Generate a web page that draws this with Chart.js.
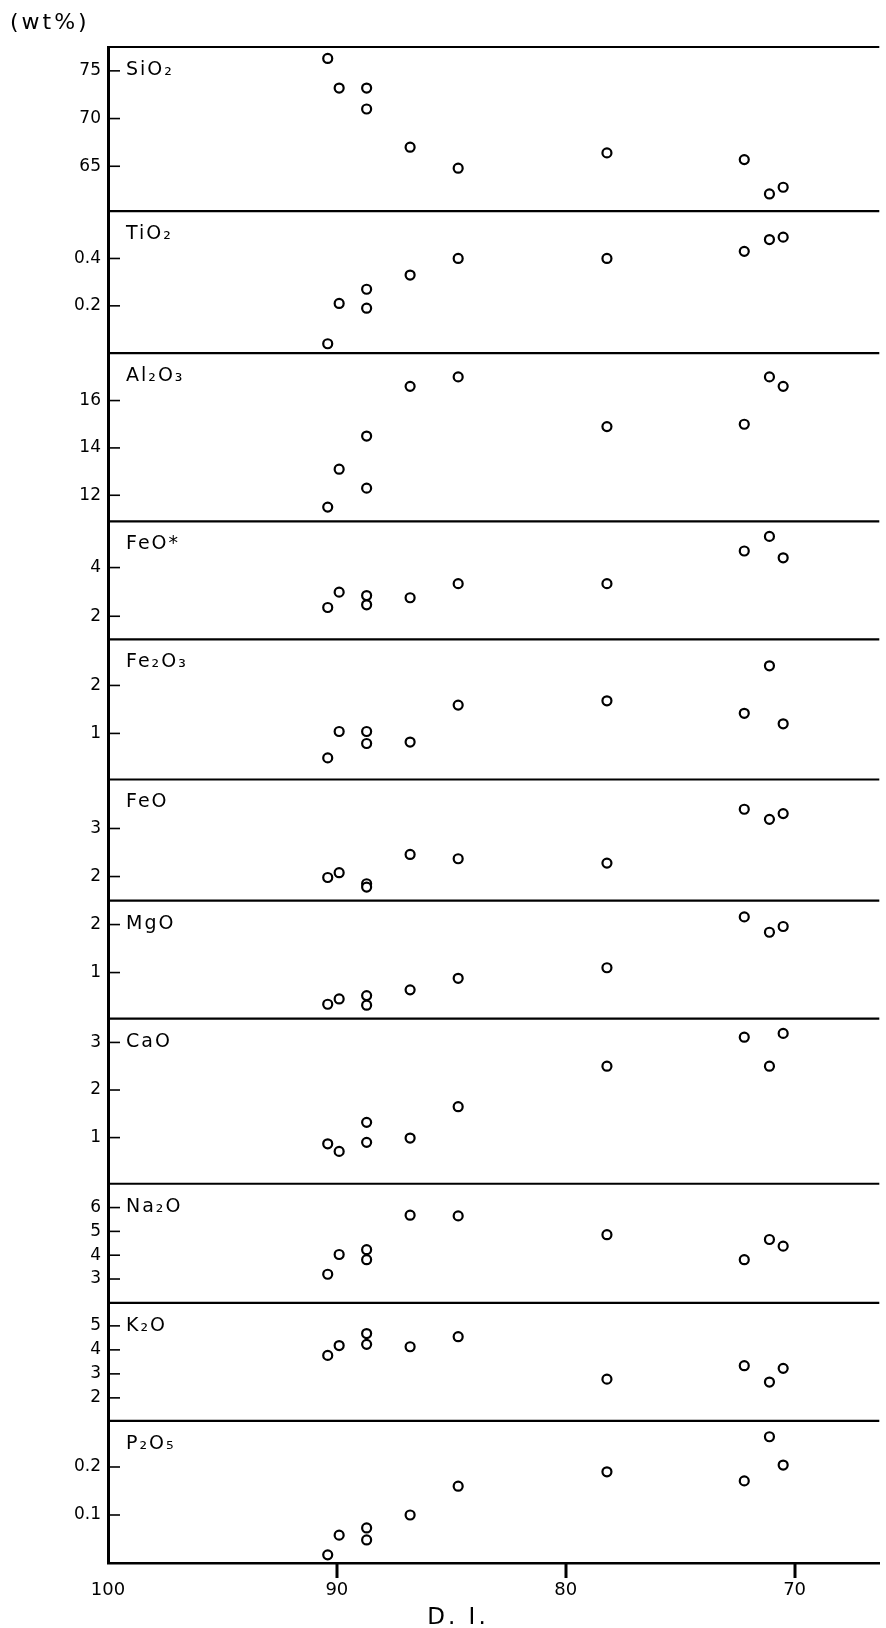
<!DOCTYPE html>
<html>
<head>
<meta charset="utf-8">
<script src="https://cdn.jsdelivr.net/npm/chart.js@4.4.1/dist/chart.umd.min.js"></script>
<style>
  html, body { margin: 0; padding: 0; background: #fff; }
  #wrap { position: relative; width: 886px; height: 1628px; }
</style>
</head>
<body>
<div id="wrap"><canvas id="chart" width="886" height="1628"></canvas></div>
<script>
// differentiation index of the ten samples (x values)
const di = [90.4, 89.9, 88.7, 88.7, 86.8, 84.7, 78.2, 72.2, 71.1, 70.5];

// oxide contents (wt%) for the same samples
const sio2  = [76.3, 73.2, 73.2, 71.0, 67.0, 64.8, 66.4, 65.7, 62.1, 62.8];
const tio2  = [0.04, 0.21, 0.27, 0.19, 0.33, 0.40, 0.40, 0.43, 0.48, 0.49];
const al2o3 = [11.5, 13.1, 14.5, 12.3, 16.6, 17.0, 14.9, 15.0, 17.0, 16.6];
const feoT  = [2.36, 2.99, 2.85, 2.47, 2.76, 3.34, 3.34, 4.68, 5.28, 4.40];
const fe2o3 = [0.49, 1.04, 1.04, 0.79, 0.82, 1.59, 1.68, 1.42, 2.41, 1.20];
const feo   = [1.98, 2.08, 1.85, 1.78, 2.46, 2.37, 2.28, 3.40, 3.19, 3.31];
const mgo   = [0.34, 0.45, 0.52, 0.32, 0.64, 0.88, 1.10, 2.16, 1.84, 1.96];
const cao   = [0.87, 0.71, 1.32, 0.90, 0.99, 1.65, 2.50, 3.11, 2.50, 3.19];
const na2o  = [3.20, 4.03, 4.23, 3.81, 5.68, 5.65, 4.86, 3.81, 4.66, 4.38];
const k2o   = [3.77, 4.18, 4.68, 4.23, 4.13, 4.55, 2.78, 3.34, 2.66, 3.23];
const p2o5  = [0.017, 0.058, 0.073, 0.048, 0.10, 0.16, 0.19, 0.171, 0.263, 0.204];

const names = ['SiO₂', 'TiO₂', 'Al₂O₃', 'FeO*', 'Fe₂O₃', 'FeO', 'MgO', 'CaO', 'Na₂O', 'K₂O', 'P₂O₅'];
const series = [sio2, tio2, al2o3, feoT, fe2o3, feo, mgo, cao, na2o, k2o, p2o5];

// axis ranges and tick labels of each panel
const yMin = [60.3, 0, 10.9, 1.05, 0.04, 1.5, 0.04, 0.03, 2.0, 1.04, 0];
const yMax = [77.5, 0.6, 18.0, 5.9, 2.96, 4.02, 2.5, 3.5, 7.0, 5.96, 0.296];
const yTicks = [
  [75, 70, 65], [0.4, 0.2], [16, 14, 12], [4, 2], [2, 1], [3, 2],
  [2, 1], [3, 2, 1], [6, 5, 4, 3], [5, 4, 3, 2], [0.2, 0.1]
];
const xTicks = [100, 90, 80, 70];

// relative panel heights
const panelHeights = [164, 142, 168, 118, 140, 121, 118, 165, 119, 118, 142];

const FONT = '"DejaVu Sans", sans-serif';
const panelIds = names.map((n, i) => 'p' + i);

const scales = {
  x: {
    type: 'linear',
    reverse: true,
    min: 66.3,
    max: 100,
    afterBuildTicks: s => { s.ticks = xTicks.map(v => ({ value: v })); },
    afterFit: s => { s.height = 65; },
    grid: { display: false, drawTicks: false },
    border: { display: true, color: '#000', width: 2.5 },
    ticks: {
      autoSkip: false, maxRotation: 0, padding: 17, color: '#000',
      font: { family: FONT, size: 18 },
      callback: v => String(v)
    }
  }
};

// later-defined left axes are stacked on top, so add them bottom-up
for (let i = names.length - 1; i >= 0; i--) {
  scales[panelIds[i]] = {
    type: 'linear',
    position: 'left',
    stack: 'oxides',
    stackWeight: panelHeights[i],
    min: yMin[i],
    max: yMax[i],
    afterBuildTicks: s => { s.ticks = yTicks[i].map(v => ({ value: v })); },
    afterFit: s => { s.width = 108; },
    grid: { display: false, drawTicks: false },
    border: { display: true, color: '#000', width: 3 },
    ticks: {
      autoSkip: false, padding: 7, color: '#000',
      font: { family: FONT, size: 17 },
      callback: v => String(v)
    }
  };
}

const datasets = series.map((vals, i) => ({
  label: names[i],
  yAxisID: panelIds[i],
  xAxisID: 'x',
  data: di.map((x, j) => ({ x: x, y: vals[j] })),
  pointStyle: 'circle',
  pointRadius: 4.5,
  pointHoverRadius: 4.5,
  pointBackgroundColor: '#fff',
  pointBorderColor: '#000',
  pointBorderWidth: 2.2,
  showLine: false
}));

const panelDecor = {
  id: 'panelDecor',
  afterDraw(chart) {
    const { ctx, chartArea } = chart;
    const xs = chart.scales.x;
    ctx.save();
    ctx.strokeStyle = '#000';
    ctx.fillStyle = '#000';
    panelIds.forEach((id, i) => {
      const s = chart.scales[id];
      // separator line on top of each panel
      ctx.lineWidth = 2.2;
      ctx.beginPath();
      ctx.moveTo(chartArea.left, s.top);
      ctx.lineTo(chartArea.right, s.top);
      ctx.stroke();
      // inward tick marks
      ctx.lineWidth = 1.6;
      s.ticks.forEach(t => {
        const y = s.getPixelForValue(t.value);
        ctx.beginPath();
        ctx.moveTo(chartArea.left, y);
        ctx.lineTo(chartArea.left + 12, y);
        ctx.stroke();
      });
      // oxide name
      ctx.font = '19px ' + FONT;
      ctx.letterSpacing = '2px';
      ctx.textAlign = 'left';
      ctx.textBaseline = 'middle';
      ctx.fillText(names[i], chartArea.left + 18, s.top + 23);
    });
    // downward tick marks on the D.I. axis (none at the corner)
    ctx.lineWidth = 3;
    xTicks.forEach(v => {
      if (v === 100) return;
      const x = Math.round(xs.getPixelForValue(v));
      ctx.beginPath();
      ctx.moveTo(x, chartArea.bottom);
      ctx.lineTo(x, chartArea.bottom + 15);
      ctx.stroke();
    });
    ctx.font = '22px ' + FONT;
    ctx.letterSpacing = '3px';
    ctx.textAlign = 'left';
    ctx.textBaseline = 'middle';
    ctx.fillText('(wt%)', 10, 23);
    ctx.font = '23px ' + FONT;
    ctx.textAlign = 'center';
    ctx.fillText('D. I.', 458, 1618);
    ctx.restore();
  }
};

new Chart(document.getElementById('chart'), {
  type: 'scatter',
  data: { datasets },
  options: {
    responsive: false,
    devicePixelRatio: 1,
    animation: false,
    layout: { padding: { top: 47, left: 0, right: 0, bottom: 0 } },
    plugins: {
      legend: { display: false },
      tooltip: { enabled: false }
    },
    scales
  },
  plugins: [panelDecor]
});
</script>
</body>
</html>
